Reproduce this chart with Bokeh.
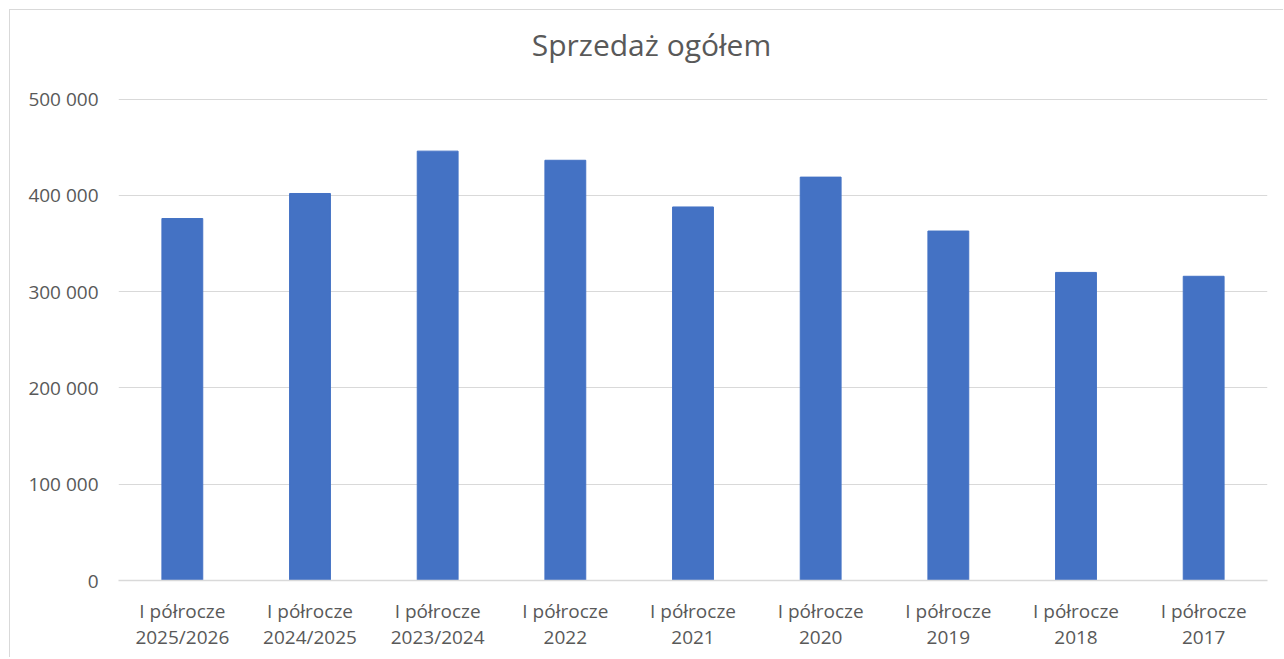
from bokeh.plotting import figure
from bokeh.models import ColumnDataSource, FixedTicker, Label
from bokeh.embed import file_html
from bokeh.resources import INLINE

categories = ["I półrocze\n2025/2026", "I półrocze\n2024/2025", "I półrocze\n2023/2024",
              "I półrocze\n2022", "I półrocze\n2021", "I półrocze\n2020",
              "I półrocze\n2019", "I półrocze\n2018", "I półrocze\n2017"]
values = [376000, 402000, 446000, 436500, 388000, 419000, 363000, 320000, 316000]
y_ticks = [0, 100000, 200000, 300000, 400000, 500000]
y_tick_labels = ["0", "100 000", "200 000", "300 000", "400 000", "500 000"]
title_text = "Sprzedaż ogółem"

FONT = "Open Sans"
GRAY = "#595959"

src = ColumnDataSource(dict(cat=categories, val=values))

# upper bound leaves room inside the frame for the chart title
p = figure(x_range=categories, y_range=(0, 590000), width=1274, height=648,
           output_backend="svg", toolbar_location=None, title=None,
           min_border_left=108, min_border_right=17, min_border_top=2, min_border_bottom=78)

p.vbar(x="cat", top="val", width=0.32, source=src, color="#4472C4", line_color="#4472C4")

title = Label(x=533, y=536, x_units="screen", y_units="screen", text=title_text,
              text_align="center", text_baseline="alphabetic", text_font=FONT,
              text_font_size="30px", text_color=GRAY)
p.add_layout(title)

p.outline_line_color = None
p.background_fill_color = "white"
p.border_fill_color = "white"
p.styles = {"border-top": "1px solid #d9d9d9", "border-left": "1px solid #d9d9d9",
            "margin-top": "9px", "margin-left": "9px"}

p.xgrid.grid_line_color = None
p.ygrid.grid_line_color = "#d9d9d9"
p.ygrid.grid_line_width = 1

p.yaxis.ticker = FixedTicker(ticks=y_ticks)
p.yaxis.major_label_overrides = {t_: l for t_, l in zip(y_ticks, y_tick_labels)}
p.yaxis.axis_line_color = None
p.yaxis.major_tick_line_color = None
p.yaxis.minor_tick_line_color = None
p.yaxis.major_tick_out = 0
p.yaxis.major_label_standoff = 20
p.yaxis.major_label_text_font = FONT
p.yaxis.major_label_text_font_size = "19px"
p.yaxis.major_label_text_color = GRAY

p.xaxis.axis_line_color = "#d9d9d9"
p.xaxis.axis_line_width = 1.5
p.xaxis.major_tick_line_color = None
p.xaxis.minor_tick_line_color = None
p.xaxis.major_tick_out = 0
p.xaxis.major_label_standoff = 17
p.xaxis.major_label_text_font = FONT
p.xaxis.major_label_text_font_size = "19px"
p.xaxis.major_label_text_color = GRAY
p.xaxis.major_label_text_line_height = 1.0
p.xaxis.major_label_orientation = "horizontal"

open("out.html", "w").write(file_html(p, INLINE))
